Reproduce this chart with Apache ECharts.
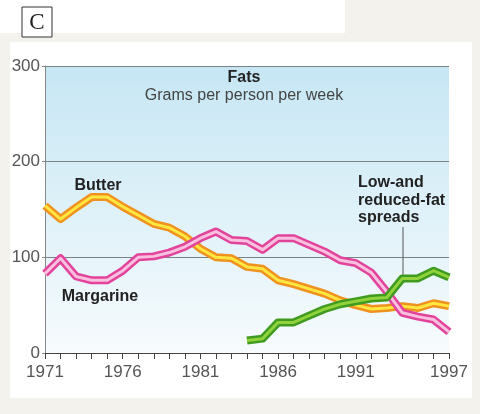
<!DOCTYPE html>
<html>
<head>
<meta charset="utf-8">
<script src="https://cdn.jsdelivr.net/npm/echarts@6/dist/echarts.min.js"></script>
<style>
html,body{margin:0;padding:0;background:#f3f2ed;}
#c{width:480px;height:414px;}
</style>
</head>
<body>
<div id="c"></div>
<script>
const years = [1971,1972,1973,1974,1975,1976,1977,1978,1979,1980,1981,1982,1983,1984,1985,1986,1987,1988,1989,1990,1991,1992,1993,1994,1995,1996,1997];
const butter = [154,140,152,163,163,153,144,135,131,122,109,100,99,90,88,76,72,67,62,55,50,46,47,49,47,52,49];
const margarine = [83,99,80,76,76,86,100,101,105,111,120,127,118,117,108,120,120,113,106,97,94,84,64,42,38,35,22];
const lowFat = [null,null,null,null,null,null,null,null,null,null,null,null,null,13,15,32,32,39,46,51,54,57,58,78,78,86,79];
const yTicks = [0,100,200,300];
const xLabelYears = [1971,1976,1981,1986,1991,1997];

const chart = echarts.init(document.getElementById('c'), null, {renderer:'canvas'});
const FONT = '"Liberation Sans", Arial, sans-serif';

function lineSeries(name, data, color, width, z){
  return {
    name: name, type:'line', data: data, symbol:'none', z: z,
    lineStyle:{color: color, width: width, join:'round', cap:'butt'},
    connectNulls:false, silent:true, animation:false
  };
}

chart.setOption({
  animation:false,
  backgroundColor:'#f3f2ed',
  graphic:[
    {type:'rect', z:-10, shape:{x:0,y:0,width:345,height:33}, style:{fill:'#ffffff'}},
    {type:'rect', z:-10, shape:{x:10,y:42,width:462,height:356}, style:{fill:'#ffffff'}},
    {type:'rect', z:5, shape:{x:22,y:7,width:30,height:30}, style:{fill:'#ffffff', stroke:'#333', lineWidth:1}},
    {type:'text', z:6, x:37, y:23, style:{text:'C', font:'23px "Liberation Serif", "DejaVu Serif", serif', fill:'#222', textAlign:'center', textVerticalAlign:'middle'}},
    {type:'text', z:20, x:244, y:78, style:{text:'Fats', font:'bold 16px '+FONT, fill:'#222', textAlign:'center', textVerticalAlign:'middle'}},
    {type:'text', z:20, x:244, y:96, style:{text:'Grams per person per week', font:'16px '+FONT, fill:'#444', textAlign:'center', textVerticalAlign:'middle'}},
    {type:'text', z:20, x:98, y:186, style:{text:'Butter', font:'bold 16px '+FONT, fill:'#222', textAlign:'center', textVerticalAlign:'middle'}},
    {type:'text', z:20, x:100, y:297, style:{text:'Margarine', font:'bold 16px '+FONT, fill:'#222', textAlign:'center', textVerticalAlign:'middle'}},
    {type:'text', z:20, x:358, y:183, style:{text:'Low-and', font:'bold 16px '+FONT, fill:'#222', textAlign:'left', textVerticalAlign:'middle'}},
    {type:'text', z:20, x:358, y:201, style:{text:'reduced-fat', font:'bold 16px '+FONT, fill:'#222', textAlign:'left', textVerticalAlign:'middle'}},
    {type:'text', z:20, x:358, y:218, style:{text:'spreads', font:'bold 16px '+FONT, fill:'#222', textAlign:'left', textVerticalAlign:'middle'}},
    {type:'line', z:3, shape:{x1:403,y1:227,x2:403,y2:276}, style:{stroke:'#555', lineWidth:1}}
  ],
  grid:{
    left:45, right:31, top:66, bottom:61, show:true, borderWidth:0,
    backgroundColor:{type:'linear', x:0,y:0,x2:0,y2:1, colorStops:[
      {offset:0,color:'#c6e6f4'},{offset:0.45,color:'#dcf0f8'},{offset:1,color:'#f7fbfd'}]}
  },
  xAxis:{
    type:'category', data: years.map(String), boundaryGap:false,
    axisLine:{lineStyle:{color:'#444', width:1}},
    axisTick:{show:true, interval:0, length:6, lineStyle:{color:'#444'}},
    axisLabel:{
      interval:0, color:'#555', fontSize:17, fontFamily:FONT, margin:11,
      formatter:function(v){ return xLabelYears.indexOf(+v) >= 0 ? v : ''; }
    },
    splitLine:{show:false}
  },
  yAxis:{
    type:'value', min:0, max:300, interval:100,
    axisLine:{show:true, lineStyle:{color:'#888'}},
    axisTick:{show:true, length:3, lineStyle:{color:'#888'}},
    axisLabel:{color:'#555', fontSize:17, fontFamily:FONT, margin:5,
      formatter:function(v){ return yTicks.indexOf(v)>=0 ? String(v) : ''; }},
    splitLine:{show:true, lineStyle:{color:'#7a8286', width:1}}
  },
  series:[
    lineSeries('Butter', butter, '#f0921f', 8, 2),
    lineSeries('Butter', butter, '#ffe640', 3, 3),
    lineSeries('Margarine', margarine, '#e2439b', 8, 4),
    lineSeries('Margarine', margarine, '#fbc0df', 3, 5),
    lineSeries('Low-and reduced-fat spreads', lowFat, '#3f9b1f', 8, 6),
    lineSeries('Low-and reduced-fat spreads', lowFat, '#8fd23c', 3, 7)
  ]
});
</script>
</body>
</html>
